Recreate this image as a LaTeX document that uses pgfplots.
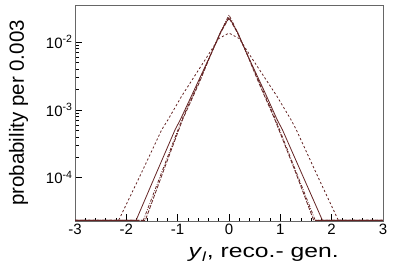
\documentclass[border=0pt]{standalone}
\usepackage{pgfplots}
\pgfplotsset{compat=1.18}
\usepackage{fontspec}
\setmainfont{Liberation Sans}
\newfontfamily\xlabfont[FakeStretch=1.3]{Liberation Sans}
\definecolor{cA}{RGB}{100,35,35}
\begin{document}
\begin{tikzpicture}
\path[use as bounding box] (0,0) rectangle (399pt,270pt);
\begin{axis}[
 at={(75pt,49pt)}, anchor=south west,
 scale only axis, width=308pt, height=216pt,
 xmin=-3, xmax=3, ymode=log, ymin=2.3e-5, ymax=0.035,
 xtick={-3,-2,-1,0,1,2,3}, minor x tick num=4,
 ytick={1e-4,1e-3,1e-2},
 yticklabels={10\textsuperscript{-4},10\textsuperscript{-3},10\textsuperscript{-2}},
 /pgf/number format/assume math mode=true,
 tick align=inside, xtick pos=bottom, ytick pos=left,
 major tick length=7pt, minor tick length=3.5pt,
 tick style={black, line width=0.6pt},
 axis line style={black!60, line width=0.6pt},
 ticklabel style={font=\fontsize{15}{15}\selectfont},
 xticklabel style={yshift=0.5pt},
 yticklabel style={xshift=1pt},
 xlabel={\xlabfont\fontsize{19}{19}\selectfont\textit{y}\textsubscript{\textit{l}}, reco.- gen.},
 ylabel={\fontsize{20.5}{20.5}\selectfont probability per 0.003},
 xlabel style={at={(axis description cs:0.857,-0.171)}, anchor=base east, inner sep=0pt},
 ylabel style={at={(axis description cs:-0.166,0.5)}, anchor=base, inner sep=0pt},
 every axis plot/.append style={cA, line width=0.8pt},
]
% solid
\addplot[] coordinates {(-3,2.35e-5)(-1.81,2.35e-5)(-1.5,8.3e-5)(-1.05,5.1e-4)(-0.95,7.1e-4)(-0.7,1.8e-3)(-0.34,6.9e-3)(-0.175,0.0135)(-0.05,0.020)(0,0.022)(0.05,0.020)(0.175,0.0135)(0.34,6.9e-3)(0.7,1.8e-3)(0.94,7.1e-4)(1.04,5.1e-4)(1.5,8.3e-5)(1.82,2.35e-5)(3,2.35e-5)};
% wide dashed
\addplot[dash pattern=on 2.2pt off 2.2pt] coordinates {(-3,2.35e-5)(-2.15,2.35e-5)(-1.75,1.0e-4)(-1.31,5.1e-4)(-1.19,7.1e-4)(-0.92,1.6e-3)(-0.43,6.0e-3)(-0.2,0.0112)(0,0.0135)(0.2,0.0112)(0.43,6.0e-3)(0.93,1.6e-3)(1.21,7.1e-4)(1.31,5.1e-4)(1.74,1.0e-4)(2.13,2.35e-5)(3,2.35e-5)};
% dash-dot
\addplot[dash pattern=on 3pt off 1.5pt on 0.8pt off 1.5pt] coordinates {(-3,2.35e-5)(-1.67,2.35e-5)(-1.3,1.26e-4)(-0.92,7.1e-4)(-0.6,2.45e-3)(-0.34,7.0e-3)(-0.17,0.0135)(-0.05,0.021)(0,0.025)(0.05,0.021)(0.17,0.0135)(0.34,7.0e-3)(0.6,2.45e-3)(0.91,7.1e-4)(1.3,1.26e-4)(1.68,2.35e-5)(3,2.35e-5)};
% long dashed
\addplot[dash pattern=on 4pt off 1.5pt] coordinates {(-3,2.35e-5)(-1.63,2.35e-5)(-1.27,1.3e-4)(-0.9,7.3e-4)(-0.58,2.5e-3)(-0.33,7.2e-3)(-0.16,0.0138)(-0.04,0.020)(0,0.023)(0.04,0.020)(0.16,0.0138)(0.33,7.2e-3)(0.58,2.5e-3)(0.89,7.3e-4)(1.28,1.3e-4)(1.65,2.35e-5)(3,2.35e-5)};
\end{axis}
\end{tikzpicture}
\end{document}
